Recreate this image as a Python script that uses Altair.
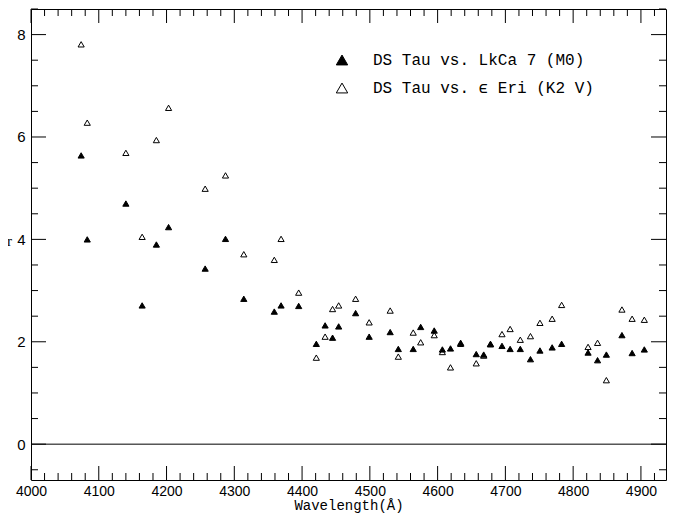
import altair as alt
import pandas as pd

# Wavelength positions (Å)
wl = [4074, 4083, 4140, 4164, 4185, 4203, 4257, 4287, 4314, 4359, 4369, 4395,
      4421, 4434, 4445, 4454, 4479, 4499, 4530, 4542, 4564, 4575, 4595, 4607,
      4619, 4634, 4657, 4668, 4678, 4695, 4707, 4722, 4737, 4751, 4769, 4783,
      4822, 4836, 4849, 4872, 4887, 4905]

# DS Tau vs. LkCa 7 (M0) - filled triangles
r_lkca7 = [5.64, 4.00, 4.70, 2.71, 3.90, 4.24, 3.43, 4.01, 2.84, 2.59, 2.71, 2.70,
           1.96, 2.32, 2.08, 2.30, 2.56, 2.10, 2.19, 1.86, 1.86, 2.29, 2.22, 1.85,
           1.87, 1.98, 1.76, 1.75, 1.96, 1.92, 1.86, 1.86, 1.66, 1.83, 1.89, 1.96,
           1.79, 1.64, 1.75, 2.13, 1.78, 1.85]

# DS Tau vs. eps Eri (K2 V) - open triangles
r_eseri = [7.81, 6.28, 5.69, 4.05, 5.94, 6.57, 4.99, 5.25, 3.71, 3.60, 4.01, 2.96,
           1.69, 2.10, 2.64, 2.71, 2.84, 2.38, 2.61, 1.71, 2.18, 1.99, 2.13, 1.80,
           1.50, 1.96, 1.58, 1.73, 1.95, 2.15, 2.25, 2.04, 2.11, 2.37, 2.45, 2.72,
           1.90, 1.98, 1.25, 2.63, 2.45, 2.43]

series_names = ["DS Tau vs. LkCa 7 (M0)", "DS Tau vs. ϵ Eri (K2 V)"]

x_major = [4000, 4100, 4200, 4300, 4400, 4500, 4600, 4700, 4800, 4900]
x_minor = [v for v in range(4020, 4940, 20) if v % 100 != 0]
y_major = [0, 2, 4, 6, 8]
y_minor = [-0.5, 0.5, 1, 1.5, 2.5, 3, 3.5, 4.5, 5, 5.5, 6.5, 7, 7.5, 8.5]

W, H = 635, 471
XD = [4000, 4937]
YD = [-0.7, 8.5]

df = pd.concat([
    pd.DataFrame({"wl": wl, "r": r_eseri, "series": series_names[1], "order": 0}),
    pd.DataFrame({"wl": wl, "r": r_lkca7, "series": series_names[0], "order": 1}),
])

xs = alt.Scale(domain=XD, nice=False, zero=False)
ys = alt.Scale(domain=YD, nice=False, zero=False)

ax_x = alt.Axis(
    values=x_major, ticks=False, tickSize=0, domain=False, grid=False, format="d",
    labelFlush=False, labelFont="Liberation Sans", labelFontSize=14,
    labelColor="black", labelPadding=4, title="Wavelength(Å)",
    titleFont="Liberation Mono", titleFontSize=14, titleFontWeight="normal",
    titleColor="black", titlePadding=0)
ax_y = alt.Axis(
    values=y_major, ticks=False, tickSize=0, domain=False, grid=False,
    labelFlush=False, labelFont="Liberation Sans", labelFontSize=15,
    labelColor="black", labelPadding=6, title="r", titleAngle=0,
    titleFont="Liberation Serif", titleFontSize=15, titleFontWeight="normal",
    titleColor="black", titleX=-22, titleY=231, titleBaseline="middle")

points = alt.Chart(df).mark_point(
    shape="triangle-up", filled=True, stroke="black", strokeWidth=1, size=38, opacity=1
).encode(
    x=alt.X("wl:Q", scale=xs, axis=ax_x),
    y=alt.Y("r:Q", scale=ys, axis=ax_y),
    fill=alt.Fill("series:N", scale=alt.Scale(domain=series_names, range=["black", "white"]),
                  legend=alt.Legend(
                      orient="none", legendX=303, legendY=43, title=None,
                      symbolType="triangle-up", symbolSize=130, symbolStrokeColor="black",
                      symbolStrokeWidth=1, labelFont="Liberation Mono", labelFontSize=16,
                      labelColor="black", labelOffset=23, labelLimit=0,
                      rowPadding=12, padding=0)),
    order=alt.Order("order:Q"),
)

xmaj_df = pd.DataFrame({"v": x_major})
xmin_df = pd.DataFrame({"v": x_minor})
ymaj_df = pd.DataFrame({"v": y_major})
ymin_df = pd.DataFrame({"v": y_minor})

def xticks(d, L):
    b = alt.Chart(d).mark_rule(color="black", strokeWidth=1).encode(
        x=alt.X("v:Q", scale=xs, axis=ax_x), y=alt.value(H), y2=alt.value(H - L))
    t = alt.Chart(d).mark_rule(color="black", strokeWidth=1).encode(
        x=alt.X("v:Q", scale=xs, axis=ax_x), y=alt.value(0), y2=alt.value(L))
    return [b, t]

def yticks(d, L):
    l = alt.Chart(d).mark_rule(color="black", strokeWidth=1).encode(
        y=alt.Y("v:Q", scale=ys, axis=ax_y), x=alt.value(0), x2=alt.value(L))
    r = alt.Chart(d).mark_rule(color="black", strokeWidth=1).encode(
        y=alt.Y("v:Q", scale=ys, axis=ax_y), x=alt.value(W), x2=alt.value(W - L))
    return [l, r]

zero = alt.Chart(pd.DataFrame({"v": [0]})).mark_rule(color="black", strokeWidth=1).encode(
    y=alt.Y("v:Q", scale=ys, axis=ax_y), x=alt.value(0), x2=alt.value(W))

layers = ([points, zero] + xticks(xmaj_df, 14) + xticks(xmin_df, 7)
          + yticks(ymaj_df, 15) + yticks(ymin_df, 7))

chart = alt.layer(*layers).properties(
    width=W, height=H,
    autosize=alt.AutoSizeParams(type="none"),
    padding={"left": 23, "top": 1, "right": 1, "bottom": 35},
    background="white",
).configure_view(stroke="black", strokeWidth=1)

chart.save("out.html", embed_options={"renderer": "svg", "actions": False})
